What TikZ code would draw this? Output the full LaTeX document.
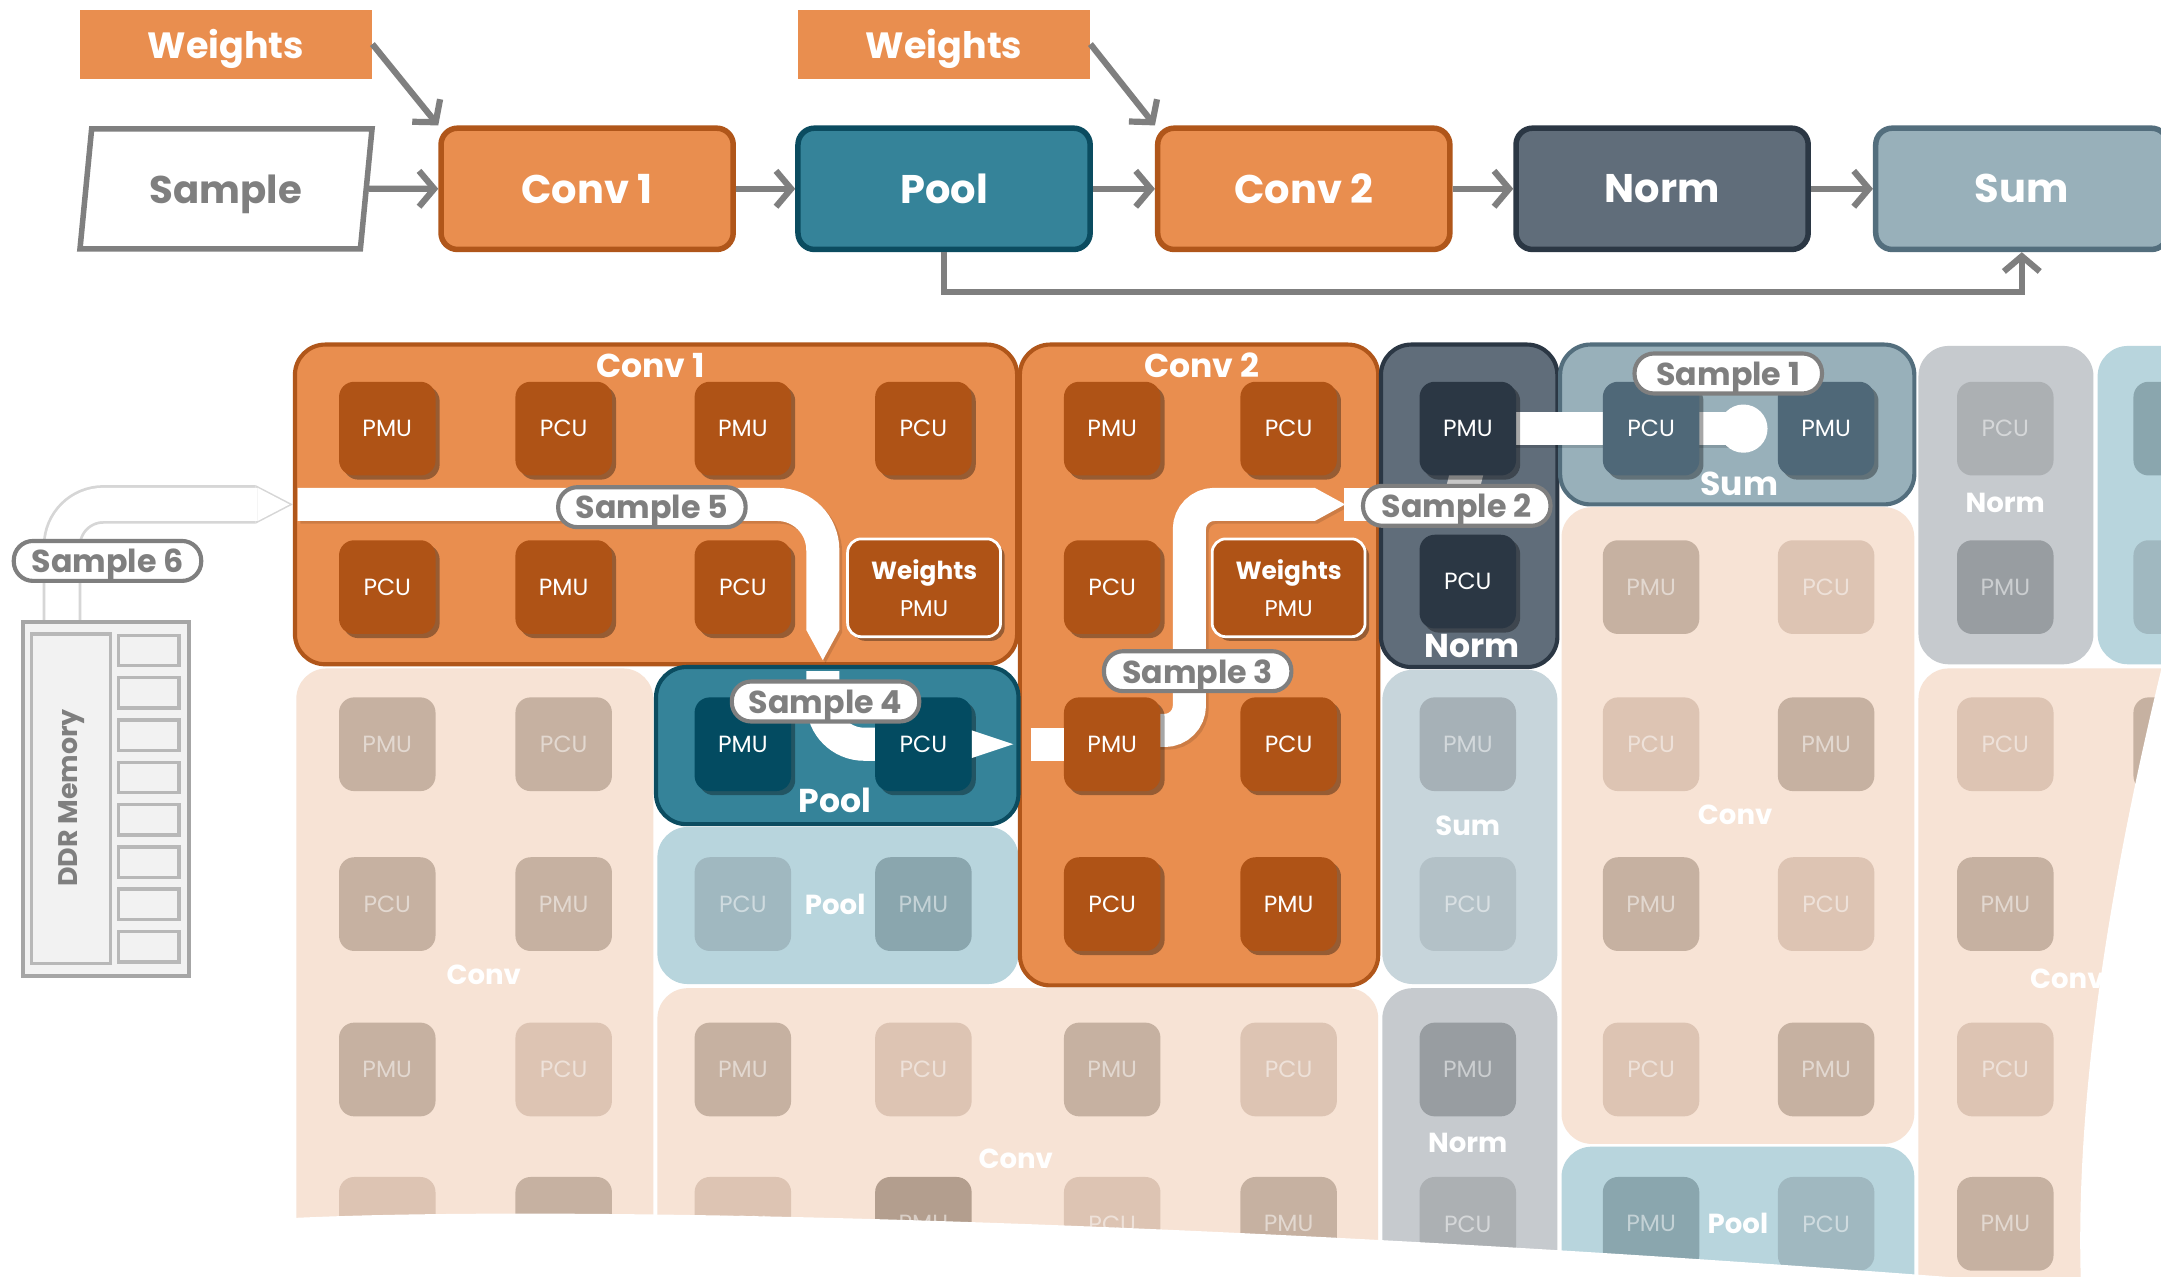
\documentclass[tikz,border=0pt]{standalone}
\usepackage{fontspec}
\setmainfont{Poppins}
\usetikzlibrary{arrows.meta,shadows,shapes.geometric}

\definecolor{OrFill}{HTML}{E98E4F}
\definecolor{OrLine}{HTML}{B0561A}
\definecolor{OrTile}{HTML}{AF5316}
\definecolor{PoFill}{HTML}{358399}
\definecolor{PoLine}{HTML}{0B4C60}
\definecolor{PoTile}{HTML}{034B61}
\definecolor{NoFill}{HTML}{606D7A}
\definecolor{NoLine}{HTML}{2B3744}
\definecolor{NoTile}{HTML}{2B3744}
\definecolor{SuFill}{HTML}{98B0BA}
\definecolor{SuLine}{HTML}{536E7D}
\definecolor{SuTile}{HTML}{4F6878}
\definecolor{ArrowGray}{HTML}{7F7F7F}
\definecolor{FcBg}{HTML}{F7E3D5}
\definecolor{FcDark}{HTML}{C6B1A1}
\definecolor{FcLight}{HTML}{DDC4B3}
\definecolor{FcDeep}{HTML}{B39E8E}
\definecolor{FpBg}{HTML}{B8D5DD}
\definecolor{FpDark}{HTML}{8AA6AE}
\definecolor{FpLight}{HTML}{A0B8C0}
\definecolor{FsBg}{HTML}{C7D5DB}
\definecolor{FsDark}{HTML}{A6B1B7}
\definecolor{FsLight}{HTML}{B3C1C7}
\definecolor{FnBg}{HTML}{C6CACE}
\definecolor{FnDark}{HTML}{989DA1}
\definecolor{FnLight}{HTML}{ACB0B3}
\definecolor{DdrLine}{HTML}{A6A6A6}
\definecolor{DdrFill}{HTML}{F2F2F2}

\begin{document}
\begin{tikzpicture}[x=1pt,y=-1pt,
  flow/.style={draw=ArrowGray, line width=4.5pt, line join=miter,
    -{Straight Barb[length=11pt,width=26pt,line width=4.5pt]}},
  topbox/.style={rounded corners=12pt, minimum width=212pt, minimum height=88pt,
    line width=4pt, text=white, inner sep=0pt, font=\bfseries\fontsize{29}{29}\selectfont},
  wbox/.style={fill=OrFill, minimum width=212pt, minimum height=50pt, inner sep=0pt,
    text depth=0pt, text=white, font=\bfseries\fontsize{26.5}{26.5}\selectfont},
  region/.style={rounded corners=22pt, inner sep=0pt},
  hotregion/.style={region, line width=3pt},
  rtitle/.style={text=white, inner sep=0pt, font=\bfseries\fontsize{24}{24}\selectfont},
  ftitle/.style={text=white, inner sep=0pt, font=\bfseries\fontsize{20}{20}\selectfont},
  tile/.style={rounded corners=11pt, minimum width=70pt, minimum height=68pt,
    inner sep=0pt, text=white, font=\fontsize{17}{17}\selectfont},
  hot/.style={tile, drop shadow={shadow xshift=3pt, shadow yshift=-3pt, opacity=.35, fill=black}},
  ftile/.style={tile, text opacity=.5},
  wtile/.style={hot, fill=OrTile, draw=white, line width=2pt, minimum width=111pt,
    minimum height=71pt, rounded corners=10pt, align=center, font=\fontsize{16.5}{27}\selectfont},
  pill/.style={draw=ArrowGray, line width=3pt, fill=white, rounded corners=14pt,
    minimum width=136pt, minimum height=29pt, inner sep=0pt, text depth=0pt, text=ArrowGray,
    font=\bfseries\fontsize{23}{23}\selectfont},
  band/.style={draw=white, line width=24pt},
  bandtip/.style={-{Triangle[length=22pt,width=24pt,line width=0pt]}},
  bandshade/.style={draw=black, opacity=.12, line width=24pt,
    transform canvas={xshift=2pt,yshift=-2pt}},
  fcd/.style={fill=FcDark}, fcl/.style={fill=FcLight}, fcx/.style={fill=FcDeep},
  fpd/.style={fill=FpDark}, fpl/.style={fill=FpLight},
  fsd/.style={fill=FsDark}, fsl/.style={fill=FsLight},
  fnd/.style={fill=FnDark}, fnl/.style={fill=FnLight}
]
\useasboundingbox (0,0) rectangle (1568,926);
\clip (0,0) rectangle (1568,926);
\fill[white] (0,0) rectangle (1568,926);

% ---------- dataflow graph ----------
\node[wbox] (wa) at (164,32) {Weights};
\node[wbox] (wb) at (685,32) {Weights};
\node[trapezium, trapezium left angle=77, trapezium right angle=103,
  trapezium stretches=true, minimum width=212pt, minimum height=87pt,
  draw=ArrowGray, line width=4pt, fill=white, text=ArrowGray, inner sep=0pt, text depth=0pt,
  font=\bfseries\fontsize{28}{28}\selectfont] (sample) at (164,137) {Sample};
\node[topbox, fill=OrFill, draw=OrLine] (conv1) at (426,137) {Conv 1};
\node[topbox, fill=PoFill, draw=PoLine] (pool) at (685,137) {Pool};
\node[topbox, fill=OrFill, draw=OrLine] (conv2) at (946,137) {Conv 2};
\node[topbox, fill=NoFill, draw=NoLine] (norm) at (1206,137) {Norm};
\node[topbox, fill=SuFill, draw=SuLine] (sum) at (1467,137) {Sum};

\draw[flow] (sample.east) -- (conv1.west);
\draw[flow] (conv1) -- (pool);
\draw[flow] (pool) -- (conv2);
\draw[flow] (conv2) -- (norm);
\draw[flow] (norm) -- (sum);
\draw[flow] (wa.east) -- (conv1.north west);
\draw[flow] (wb.east) -- (conv2.north west);
\coordinate (bus) at (1000,212);
\draw[flow] (pool.south) |- (bus) -| (sum.south);

% ---------- idle fabric regions ----------
\node[region, fill=FcBg, minimum width=259pt, minimum height=475pt] (fr1) at (344.5,722.5) {};
\node[region, fill=FpBg, minimum width=262pt, minimum height=114pt] (fr2) at (608,657) {};
\node[region, fill=FcBg, minimum width=523pt, minimum height=243pt] (fr3) at (738.5,838.5) {};
\node[region, fill=FsBg, minimum width=127pt, minimum height=228pt] (fr4) at (1066.5,600) {};
\node[region, fill=FnBg, minimum width=127pt, minimum height=243pt] (fr5) at (1066.5,838.5) {};
\node[region, fill=FcBg, minimum width=256pt, minimum height=462pt] (fr6) at (1261,599) {};
\node[region, fill=FpBg, minimum width=256pt, minimum height=128pt] (fr7) at (1261,896) {};
\node[region, fill=FnBg, minimum width=127pt, minimum height=231pt] (fr8) at (1455.5,366.5) {};
\node[region, fill=FpBg, minimum width=128pt, minimum height=231pt] (fr9) at (1586,366.5) {};
\node[region, fill=FcBg, minimum width=258pt, minimum height=475pt] (fr10) at (1521,722.5) {};

\foreach \nm/\px/\py/\lbl/\sty in {
  fa1/281/540/PMU/fcd, fa2/409/540/PCU/fcd, fa3/281/656/PCU/fcd, fa4/409/656/PMU/fcd,
  fa5/281/776/PMU/fcd, fa6/409/776/PCU/fcl, fa7/281/888/PCU/fcl, fa8/409/888/PMU/fcd,
  fb1/539/656/PCU/fpl, fb2/670/656/PMU/fpd,
  fc1/539/776/PMU/fcd, fc2/670/776/PCU/fcl, fc3/807/776/PMU/fcd, fc4/935/776/PCU/fcl,
  fc5/539/888/PCU/fcl, fc6/670/888/PMU/fcx, fc7/807/888/PCU/fcl, fc8/935/888/PMU/fcd,
  fd1/1065/540/PMU/fsd, fd2/1065/656/PCU/fsl,
  fe1/1065/776/PMU/fnd, fe2/1065/888/PCU/fnl,
  ff1/1198/426/PMU/fcd, ff2/1325/426/PCU/fcl, ff3/1198/540/PCU/fcl, ff4/1325/540/PMU/fcd,
  ff5/1198/656/PMU/fcd, ff6/1325/656/PCU/fcl, ff7/1198/776/PCU/fcl, ff8/1325/776/PMU/fcd,
  fg1/1198/888/PMU/fpd, fg2/1325/888/PCU/fpl,
  fh1/1455/311/PCU/fnl, fh2/1455/426/PMU/fnd,
  fi1/1583/311//fpd, fi2/1583/426//fpl,
  fj1/1455/540/PCU/fcl, fj2/1455/656/PMU/fcd, fj3/1455/776/PCU/fcl, fj4/1455/888/PMU/fcd,
  fj5/1583/540//fcd, fj6/1583/656//fcl}
  \node[ftile,\sty] (\nm) at (\px,\py) {\lbl};

\node[ftitle] (fta) at (351,707) {Conv};
\node[ftitle] (ftb) at (606,656) {Pool};
\node[ftitle] (ftc) at (737,841) {Conv};
\node[ftitle] (ftd) at (1065,599) {Sum};
\node[ftitle] (fte) at (1065,829) {Norm};
\node[ftitle] (ftf) at (1259,591) {Conv};
\node[ftitle] (ftg) at (1261,888) {Pool};
\node[ftitle] (fth) at (1455,365) {Norm};
\node[ftitle] (ftj) at (1500,710) {Conv};

% ---------- mapped layers ----------
\node[hotregion, fill=OrFill, draw=OrLine, minimum width=524pt, minimum height=232pt] (rc1) at (476,366) {};
\node[hotregion, fill=OrFill, draw=OrLine, minimum width=260pt, minimum height=465pt] (rc2) at (870,482.5) {};
\node[hotregion, fill=NoFill, draw=NoLine, minimum width=128pt, minimum height=234pt] (rno) at (1066,367) {};
\node[hotregion, fill=SuFill, draw=SuLine, minimum width=257pt, minimum height=116pt] (rsu) at (1260.5,308) {};
\node[hotregion, fill=PoFill, draw=PoLine, minimum width=263pt, minimum height=114pt] (rpo) at (607.5,541) {};

% sample streams (drawn under the units)
\draw[bandshade, bandtip, rounded corners=33pt] (216,366) -- (597,366) -- (597,479);
\draw[band, bandtip, rounded corners=33pt] (216,366) -- (597,366) -- (597,479);
\draw[band, rounded corners=30pt] (597,487) -- (597,540) -- (670,540);
\draw[bandshade, bandtip, rounded corners=18pt] (810,530) -- (863,530) -- (863,366) -- (976,366);
\draw[band, bandtip, rounded corners=18pt] (810,530) -- (863,530) -- (863,366) -- (976,366);
\draw[band] (975,366) -- (1040,366);
\draw[line width=24pt, draw=black!22] (1058,368) -- (1065,340);
\draw[bandshade] (1065,311) -- (1265,311);
\draw[band] (1065,311) -- (1265,311);
\node[circle, fill=white, minimum size=35pt, inner sep=0pt] (dot) at (1265,311) {};

% compute and memory units
\node[hot, fill=OrTile] (c1a) at (281,311) {PMU};
\node[hot, fill=OrTile] (c1b) at (409,311) {PCU};
\node[hot, fill=OrTile] (c1c) at (539,311) {PMU};
\node[hot, fill=OrTile] (c1d) at (670,311) {PCU};
\node[hot, fill=OrTile] (c1e) at (281,426) {PCU};
\node[hot, fill=OrTile] (c1f) at (409,426) {PMU};
\node[hot, fill=OrTile] (c1g) at (539,426) {PCU};
\node[wtile] (c1w) at (670.5,426.5) {\textbf{\fontsize{18}{18}\selectfont Weights}\\PMU};

\node[hot, fill=OrTile] (c2a) at (807,311) {PMU};
\node[hot, fill=OrTile] (c2b) at (935,311) {PCU};
\node[hot, fill=OrTile] (c2c) at (807,426) {PCU};
\node[wtile] (c2w) at (935,426.5) {\textbf{\fontsize{18}{18}\selectfont Weights}\\PMU};
\node[hot, fill=OrTile] (c2d) at (807,540) {PMU};
\node[hot, fill=OrTile] (c2e) at (935,540) {PCU};
\node[hot, fill=OrTile] (c2f) at (807,656) {PCU};
\node[hot, fill=OrTile] (c2g) at (935,656) {PMU};

\node[hot, fill=NoTile] (n1) at (1065,311) {PMU};
\node[hot, fill=NoTile] (n2) at (1065,422) {PCU};
\node[hot, fill=SuTile] (s1) at (1198,311) {PCU};
\node[hot, fill=SuTile] (s2) at (1325,311) {PMU};
\node[hot, fill=PoTile] (p1) at (539,540) {PMU};
\node[hot, fill=PoTile] (p2) at (670,540) {PCU};

% stream pieces between units
\fill[white] ([yshift=10pt]p2.east) -- ([xshift=30pt]p2.east) -- ([yshift=-10pt]p2.east) -- cycle;
\draw[band] ([xshift=-24pt]c2d.west) -- (c2d.west);

% layer titles
\node[rtitle] (tc1) at (472,265) {Conv 1};
\node[rtitle] (tc2) at (872,265) {Conv 2};
\node[rtitle] (tno) at (1068,469) {Norm};
\node[rtitle] (tsu) at (1262,351) {Sum};
\node[rtitle] (tpo) at (606,581) {Pool};

% sample tags
\node[pill] (l1) at (1254,271) {Sample 1};
\node[pill] (l2) at (1057,367) {Sample 2};
\node[pill] (l3) at (869,487) {Sample 3};
\node[pill] (l4) at (599,509) {Sample 4};
\node[pill] (l5) at (473,368) {Sample 5};

% torn edges of the fabric
\fill[white] (190,885) .. controls (380,873) and (900,884) .. (1520,935) -- (1520,960) -- (190,960) -- cycle;
\fill[white] (1572,470) .. controls (1530,640) and (1505,800) .. (1510,935) -- (1600,935) -- (1600,470) -- cycle;

% ---------- off-chip memory ----------
\draw[line width=28pt, draw=black!16, rounded corners=30pt,
  -{Triangle[length=27pt,width=28pt,line width=0pt]}] (45,460) -- (45,366) -- (rc1.west);
\draw[line width=24pt, draw=white, rounded corners=30pt, shorten >=2.5pt,
  -{Triangle[length=23pt,width=24pt,line width=0pt]}] (45,460) -- (45,366) -- (rc1.west);
\node[draw=DdrLine, fill=DdrFill, line width=3pt, minimum width=120pt, minimum height=257pt,
  inner sep=0pt] (ddr) at (77,579.5) {};
\draw[draw=DdrLine!80, line width=2.5pt] (23,460) rectangle (80,699);
\foreach \i in {0,...,7}
  \draw[draw=DdrLine!80, line width=2.5pt] (86,{461+30.7*\i}) rectangle (130,{483+30.7*\i});
\node[rotate=90, text=ArrowGray, inner sep=0pt, font=\bfseries\fontsize{19.5}{19.5}\selectfont] (ddrtxt) at (52,579) {DDR Memory};
\node[pill] (l6) at (78,407) {Sample 6};
\end{tikzpicture}
\end{document}
